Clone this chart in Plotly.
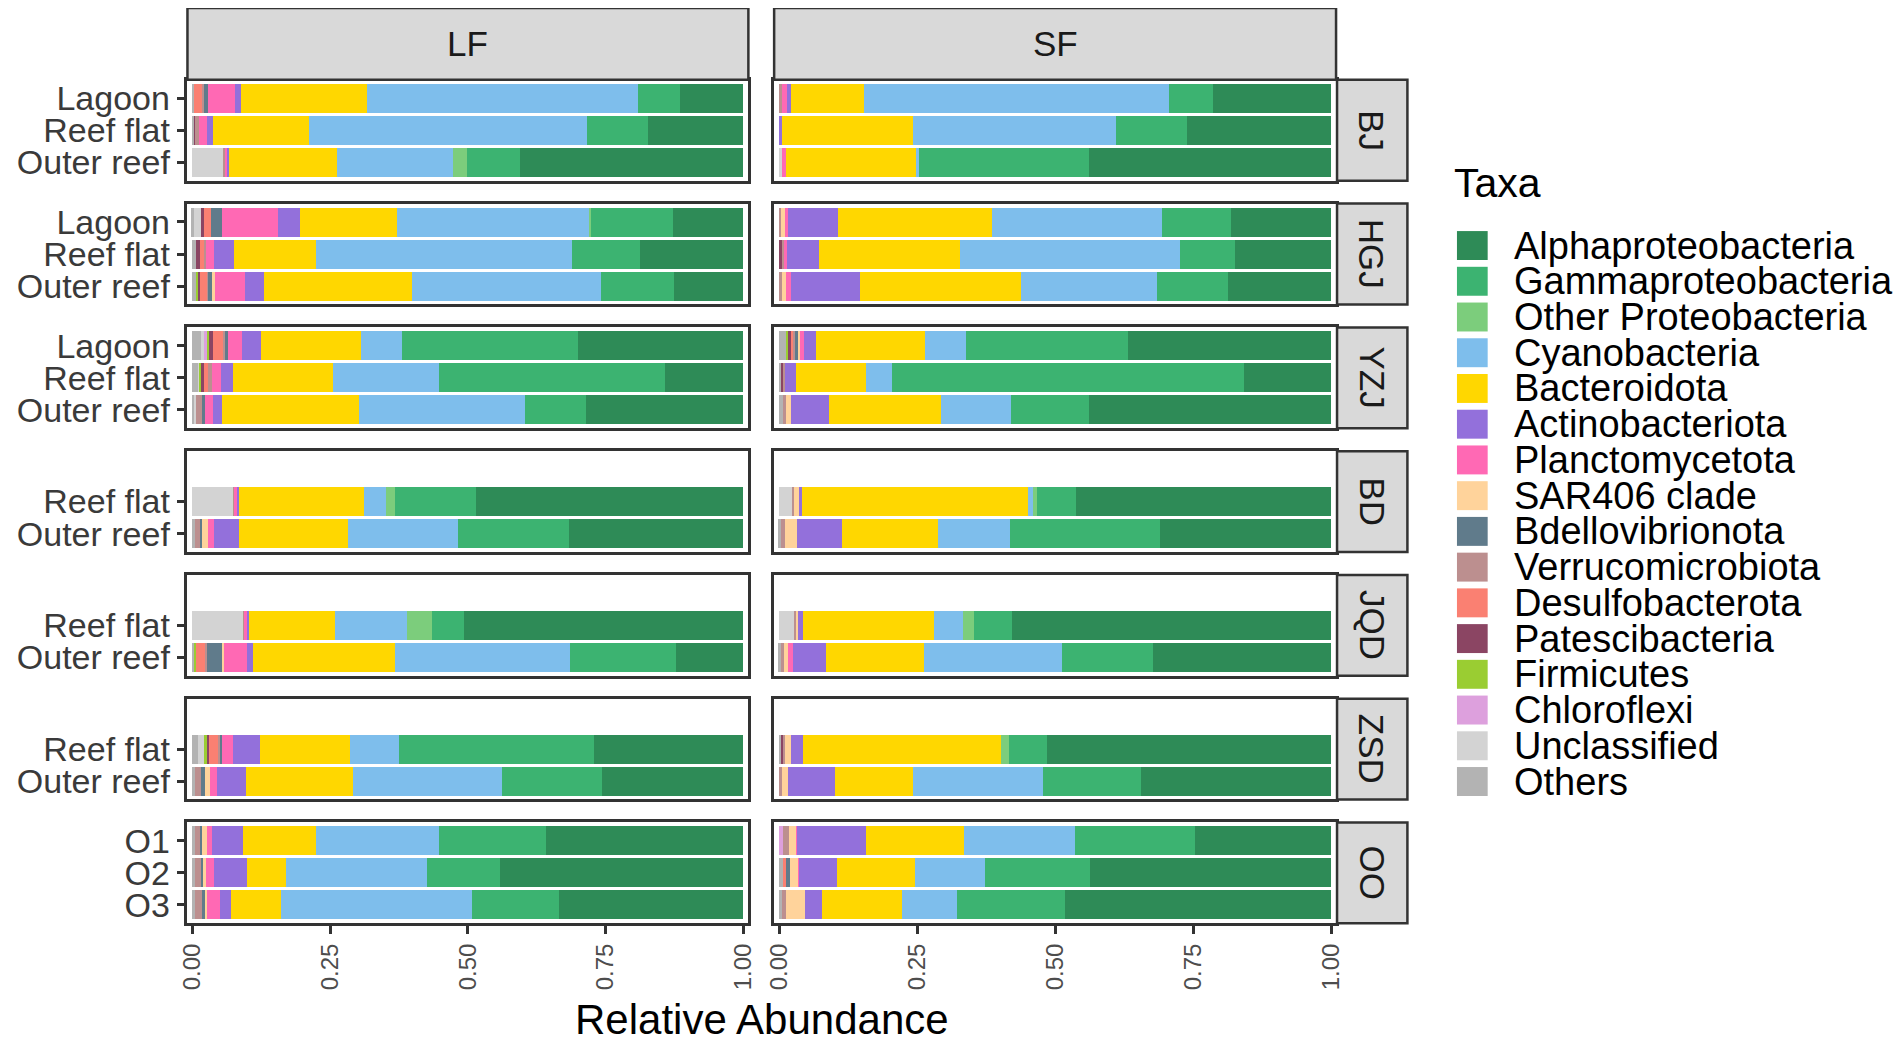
import plotly.graph_objects as go

# the page body keeps an 8px margin, so the figure is drawn 8px smaller and all
# pixel positions below are given in window coordinates
PAD = 8
W, H = 1902 - PAD, 1043 - PAD

# facets
regions = ["BJ", "HGJ", "YZJ", "BD", "JQD", "ZSD", "OO"]
fractions = ["LF", "SF"]

# the 18 sites of one fraction (same order is used for LF and SF)
site_region = ["BJ", "BJ", "BJ", "HGJ", "HGJ", "HGJ", "YZJ", "YZJ", "YZJ",
               "BD", "BD", "JQD", "JQD", "ZSD", "ZSD", "OO", "OO", "OO"]
site_name = ["Lagoon", "Reef flat", "Outer reef", "Lagoon", "Reef flat", "Outer reef",
             "Lagoon", "Reef flat", "Outer reef", "Reef flat", "Outer reef",
             "Reef flat", "Outer reef", "Reef flat", "Outer reef", "O1", "O2", "O3"]

# relative abundance per taxon: first 18 values = LF sites, next 18 = SF sites
alpha = [.114, .173, .405, .127, .186, .125, .300, .142, .285, .485, .316, .507, .121, .271, .255, .357, .441, .333,
         .214, .260, .439, .181, .173, .187, .367, .158, .438, .462, .309, .578, .322, .514, .344, .246, .437, .481]
gamma = [.076, .110, .095, .148, .125, .133, .319, .409, .110, .147, .201, .057, .193, .354, .183, .194, .132, .158,
         .080, .129, .308, .125, .101, .129, .294, .637, .142, .071, .272, .069, .165, .070, .178, .217, .190, .197]
other_proteo = [0, 0, .026, .004, 0, 0, 0, 0, 0, .015, 0, .045, 0, 0, 0, 0, 0, 0,
                0, 0, 0, 0, 0, 0, 0, 0, 0, .007, 0, .019, 0, .013, 0, 0, 0, 0]
cyano = [.492, .504, .211, .348, .464, .342, .074, .193, .302, .041, .199, .132, .318, .089, .270, .223, .257, .348,
         .552, .368, .005, .308, .398, .245, .075, .048, .127, .008, .131, .054, .251, 0, .235, .201, .127, .100]
bacteroid = [.229, .174, .196, .177, .148, .270, .181, .181, .248, .227, .199, .155, .258, .162, .194, .133, .070, .091,
             .132, .237, .235, .279, .256, .292, .197, .127, .202, .411, .173, .236, .176, .360, .142, .178, .140, .144]
actino = [.011, .011, .004, .040, .037, .033, .035, .023, .016, .004, .045, .005, .011, .050, .052, .057, .060, .020,
          .008, .006, 0, .090, .057, .126, .022, .019, .070, .003, .083, .009, .061, .022, .084, .125, .069, .031]
plancto = [.048, .016, .002, .101, .015, .056, .026, .016, .015, .003, .010, .003, .041, .019, .013, .008, .015, .023,
           .008, 0, .007, .006, .005, .009, .007, 0, 0, 0, 0, 0, .008, 0, 0, .002, .002, 0]
sar406 = [0, 0, 0, 0, 0, .004, 0, 0, 0, 0, .011, 0, .004, 0, .009, .010, .005, .003,
          0, 0, 0, .007, 0, .006, .004, 0, .009, .011, .021, .003, .007, .010, .012, .013, .015, .035]
bdello = [.008, 0, 0, .020, 0, .007, .005, 0, .005, 0, .004, 0, .026, .005, .007, .003, .003, .005,
          0, 0, 0, 0, 0, 0, .005, 0, 0, 0, 0, 0, 0, 0, 0, 0, .008, 0]
verruco = [.003, .006, .005, 0, .004, .002, .004, .007, .011, .004, .010, .004, .003, .001, .012, .010, .012, .013,
           .006, 0, 0, .004, .003, .006, .002, .003, .005, .002, .008, .003, .007, .003, .005, .011, 0, .007]
desulfo = [.015, 0, 0, .014, .007, .014, .018, .007, 0, 0, 0, 0, .017, .018, 0, 0, 0, 0,
           0, 0, 0, 0, 0, 0, .005, 0, 0, 0, 0, 0, 0, 0, 0, 0, .005, 0]
patesci = [0, .001, 0, .003, .006, .002, .007, .005, 0, 0, 0, 0, 0, .003, 0, 0, 0, 0,
           0, 0, 0, 0, .007, 0, .005, .003, 0, 0, 0, 0, 0, .003, 0, 0, 0, 0]
firmi = [0, 0, 0, 0, 0, .004, .004, .003, 0, 0, 0, 0, .003, .007, 0, 0, 0, 0,
         0, 0, 0, 0, 0, 0, .003, 0, 0, 0, 0, 0, 0, 0, 0, 0, 0, 0]
chloro = [0, 0, 0, 0, 0, 0, .006, 0, 0, 0, 0, 0, 0, 0, 0, 0, 0, 0,
          0, 0, 0, 0, 0, 0, 0, 0, 0, 0, 0, 0, 0, 0, 0, .007, 0, 0]
unclass = [0, 0, .056, .015, 0, 0, .005, .003, .003, .074, 0, .092, 0, .010, 0, 0, 0, 0,
           0, 0, .006, 0, 0, 0, 0, 0, 0, .025, 0, .029, 0, 0, 0, 0, 0, 0]
others = [.004, .005, 0, .003, .008, .008, .016, .011, .005, 0, .005, 0, .005, .011, .005, .005, .005, .006,
          0, 0, 0, 0, 0, 0, .014, .005, .007, 0, .003, 0, .003, .005, 0, 0, .007, .005]

taxa_names = ["Alphaproteobacteria", "Gammaproteobacteria", "Other Proteobacteria", "Cyanobacteria",
              "Bacteroidota", "Actinobacteriota", "Planctomycetota", "SAR406 clade", "Bdellovibrionota",
              "Verrucomicrobiota", "Desulfobacterota", "Patescibacteria", "Firmicutes", "Chloroflexi",
              "Unclassified", "Others"]
taxa_colors = ["#2E8B57", "#3CB371", "#7CCD7C", "#7EBEEC", "#FFD700", "#9370DB", "#FF69B4", "#FFD39B",
               "#607B8B", "#BC8F8F", "#FA8072", "#8B4563", "#9ACD32", "#DDA0DD", "#D3D3D3", "#B3B3B3"]
taxa_values = [alpha, gamma, other_proteo, cyano, bacteroid, actino, plancto, sar406, bdello,
               verruco, desulfo, patesci, firmi, chloro, unclass, others]


def fx(p):
    return (p - PAD) / W


def fy(p):
    return 1 - (p - PAD) / H


FONT = "Liberation Sans, Arial, sans-serif"
EDGE = "#333333"
col_px = [(180, 746), (772, 1339)]
row_top = [79 + 124 * r for r in range(7)]
row_h = 101

fig = go.Figure()
layout = {}
shapes = []
annotations = []


def label(x, y, text, size, color="black", xanchor="center", angle=0):
    annotations.append(dict(xref="paper", yref="paper", x=fx(x), y=fy(y), text=text,
                            showarrow=False, xanchor=xanchor, yanchor="middle", textangle=angle,
                            font=dict(family=FONT, size=size, color=color)))


for ri, reg in enumerate(regions):
    idx = [i for i in range(18) if site_region[i] == reg]
    cats = [site_name[i] for i in idx][::-1]
    for ci, frac in enumerate(fractions):
        k = ri * 2 + ci + 1
        sfx = "" if k == 1 else str(k)
        for t in reversed(range(len(taxa_names))):
            xs, ys = [], []
            for i in idx:
                v = taxa_values[t][ci * 18 + i]
                if v > 0:
                    xs.append(v)
                    ys.append(site_name[i])
            if xs:
                fig.add_trace(go.Bar(x=xs, y=ys, orientation="h", width=0.92,
                                     marker=dict(color=taxa_colors[t], line=dict(width=0)),
                                     name=taxa_names[t], showlegend=False,
                                     xaxis="x" + sfx, yaxis="y" + sfx))
        bottom = ri == len(regions) - 1
        layout["xaxis" + sfx] = dict(
            domain=[fx(col_px[ci][0]), fx(col_px[ci][1])], anchor="y" + sfx,
            range=[-0.009, 1.009], showgrid=False, zeroline=False,
            showline=True, mirror=True, linecolor=EDGE, linewidth=2.5,
            tickmode="array", tickvals=[0, 0.25, 0.5, 0.75, 1],
            ticktext=["0.00", "0.25", "0.50", "0.75", "1.00"],
            tickangle=-90, ticks="outside" if bottom else "", ticklen=8, tickwidth=2.5,
            tickcolor=EDGE, showticklabels=bottom,
            tickfont=dict(family=FONT, size=24, color="#4D4D4D"))
        layout["yaxis" + sfx] = dict(
            domain=[fy(row_top[ri] + row_h), fy(row_top[ri])], anchor="x" + sfx,
            type="category", categoryorder="array", categoryarray=cats,
            tickmode="array", tickvals=cats, ticktext=cats,
            range=[-0.57, 2.57], showgrid=False, zeroline=False,
            showline=True, mirror=True, linecolor=EDGE, linewidth=2.5,
            ticks="outside" if ci == 0 else "", ticklen=8, tickwidth=2.5, tickcolor=EDGE,
            showticklabels=ci == 0,
            tickfont=dict(family=FONT, size=34, color="#3A3A3A"))

    # right strip
    shapes.append(dict(type="rect", xref="paper", yref="paper",
                       x0=fx(1340), x1=fx(1411), y0=fy(row_top[ri] + row_h), y1=fy(row_top[ri]),
                       fillcolor="#D9D9D9", line=dict(color=EDGE, width=2.5)))
    label(1375.5, row_top[ri] + row_h / 2, reg, 35, "#1A1A1A", angle=90)

# top strips
for ci, frac in enumerate(fractions):
    shapes.append(dict(type="rect", xref="paper", yref="paper",
                       x0=fx(col_px[ci][0]), x1=fx(col_px[ci][1]), y0=fy(79), y1=fy(7),
                       fillcolor="#D9D9D9", line=dict(color=EDGE, width=2.5)))
    label(sum(col_px[ci]) / 2, 43, frac, 35, "#1A1A1A")

# x axis title
label(760, 1020, "Relative Abundance", 42)

# legend drawn by hand so the keys match the reference size
label(1456, 182, "Taxa", 41, xanchor="left")
for t, name in enumerate(taxa_names):
    cy = 245 + 35.8 * t
    shapes.append(dict(type="rect", xref="paper", yref="paper",
                       x0=fx(1461), x1=fx(1492), y0=fy(cy + 14.5), y1=fy(cy - 14.5),
                       fillcolor=taxa_colors[t], line=dict(width=0)))
    label(1517, cy, name, 38, xanchor="left")

fig.update_layout(**layout)
fig.update_layout(width=W, height=H, margin=dict(l=0, r=0, t=0, b=0),
                  barmode="stack", bargap=0, plot_bgcolor="white", paper_bgcolor="white",
                  shapes=shapes, annotations=annotations, showlegend=False)

fig.write_html("out.html")
